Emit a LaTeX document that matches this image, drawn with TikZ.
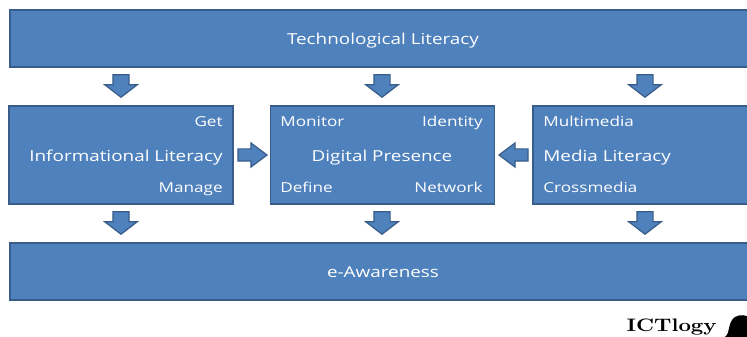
\documentclass[tikz,border=0pt]{standalone}
\usepackage{fontspec}
\setmainfont[FakeStretch=1.25]{Open Sans}
\newfontfamily\logofont[FakeStretch=1.2]{Latin Modern Roman}
\usetikzlibrary{shapes.arrows,positioning}
\definecolor{boxfill}{HTML}{4F81BD}
\definecolor{boxline}{HTML}{385D8A}

\begin{document}
\begin{tikzpicture}[
x=0.02cm, y=-0.02cm,
wide-box/.style = {rectangle,draw=boxline,fill=boxfill,line width=0.7pt,minimum width=14.92cm,minimum height=1.14cm,text=white,text height=7pt,text depth=0pt,font=\fontsize{8.6}{10}\selectfont},
mid-box/.style = {rectangle,draw=boxline,fill=boxfill,line width=0.7pt,minimum width=4.48cm,minimum height=1.96cm},
big-text/.style = {text=white,inner sep=0pt,text height=6pt,text depth=0pt,font=\fontsize{8.6}{10}\selectfont},
small-text/.style = {text=white,inner sep=0pt,text height=5pt,text depth=0pt,font=\fontsize{7.8}{9}\selectfont},
down-arrow/.style = {single arrow,draw=boxline,fill=boxfill,line width=0.7pt,shape border rotate=270,anchor=tip,inner sep=0.15cm,minimum width=0.62cm,minimum height=0.44cm,single arrow head extend=0.16cm,single arrow tip angle=105},
side-arrow/.style = {single arrow,draw=boxline,fill=boxfill,line width=0.7pt,anchor=tip,inner sep=0.11cm,minimum width=0.46cm,minimum height=0.58cm,single arrow head extend=0.12cm,single arrow tip angle=74}
]
\useasboundingbox (0,0) rectangle (747,337);
\clip (0,0) rectangle (747,337);

\node [wide-box] (tech) at (383, 38.5) {Technological Literacy};
\node [wide-box] (aware) at (383, 271.5) {e-Awareness};
\node [mid-box] (info) at (121, 155) {};
\node [mid-box] (digital) at (382.5, 155) {};
\node [mid-box] (media) at (645, 155) {};

% labels
\node [small-text, anchor=east] (get) at (223, 122) {Get};
\node [big-text, anchor=east] (infotext) at (223, 156) {Informational Literacy};
\node [small-text, anchor=east] (manage) at (223, 188.5) {Manage};
\node [small-text, anchor=west] (monitor) at (280, 122) {Monitor};
\node [small-text, anchor=east] (identity) at (483, 122) {Identity};
\node [big-text] (digitaltext) at (382, 156) {Digital Presence};
\node [small-text, anchor=west] (define) at (280, 188.5) {Define};
\node [small-text, anchor=east] (network) at (483, 188.5) {Network};
\node [small-text, anchor=west] (multi) at (543, 122) {Multimedia};
\node [big-text, anchor=west] (mediatext) at (543, 156) {Media Literacy};
\node [small-text, anchor=west] (cross) at (543, 188.5) {Crossmedia};

% arrows
\node [down-arrow] (a1) at (121, 98) {};
\node [down-arrow] (a2) at (382, 98) {};
\node [down-arrow] (a3) at (645, 98) {};
\node [down-arrow] (a4) at (121, 235) {};
\node [down-arrow] (a5) at (382, 235) {};
\node [down-arrow] (a6) at (645, 235) {};
\node [side-arrow] (a7) at (268, 155) {};
\node [side-arrow, shape border rotate=180] (a8) at (498, 155) {};

% logo
\node [anchor=east, inner sep=0pt, text height=6pt, text depth=0pt, font=\logofont\bfseries\fontsize{10.3}{11}\selectfont] (logo) at (717, 326) {ICTlogy};
\fill[black] (725,337) .. controls (731,332) and (727,323) .. (735,317) .. controls (740,314) and (747,315) .. (750,318) -- (750,337) -- cycle;

\end{tikzpicture}
\end{document}
